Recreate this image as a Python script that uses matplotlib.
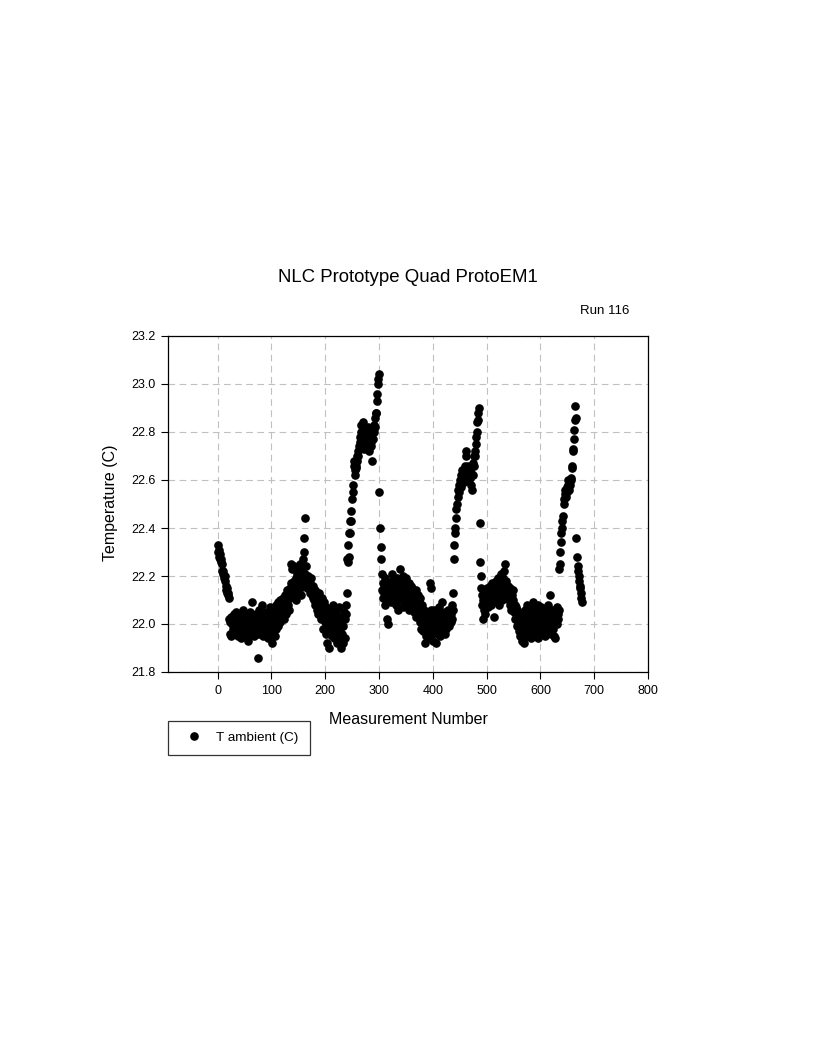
import numpy as np
import matplotlib
matplotlib.use("Agg")
import matplotlib.pyplot as plt

plt.rcParams['font.family'] = ['Liberation Sans', 'DejaVu Sans']

title = "NLC Prototype Quad ProtoEM1"
run_label = "Run 116"
x_label = "Measurement Number"
y_label = "Temperature (C)"
series_name = "T ambient (C)"

x_ticks = [0, 100, 200, 300, 400, 500, 600, 700, 800]
y_ticks = [21.8, 22.0, 22.2, 22.4, 22.6, 22.8, 23.0, 23.2]

# T ambient (C), one value per measurement number (0, 1, 2, ...)
t_ambient = [
    22.33, 22.30, 22.31, 22.28, 22.29, 22.27, 22.26, 22.27, 22.25, 22.22,
    22.21, 22.22, 22.19, 22.20, 22.18, 22.16, 22.14, 22.15, 22.13, 22.12,
    22.13, 22.11, 22.02, 21.96, 22.01, 22.03, 21.95, 22.00, 22.02, 21.98,
    22.04, 22.01, 21.96, 22.03, 21.99, 22.05, 22.00, 21.97, 22.02, 21.95,
    22.01, 22.04, 21.98, 22.00, 21.94, 22.03, 21.99, 22.06, 21.97, 22.01,
    21.95, 22.02, 21.98, 22.04, 21.96, 22.00, 21.93, 22.03, 21.99, 22.01,
    21.97, 22.05, 22.00, 21.96, 22.02, 22.09, 21.98, 22.01, 21.95, 22.03,
    22.00, 21.97, 22.04, 21.99, 22.02, 21.86, 21.96, 22.01, 22.06, 21.98,
    22.03, 21.97, 22.00, 22.08, 21.95, 22.02, 21.99, 22.04, 21.97, 22.01,
    22.05, 21.98, 22.02, 21.94, 22.00, 22.03, 21.96, 22.07, 22.01, 21.99,
    22.04, 21.92, 22.02, 21.97, 22.05, 22.00, 21.95, 22.03, 22.08, 21.98,
    22.06, 22.02, 22.09, 21.99, 22.04, 22.07, 22.01, 22.10, 22.05, 22.03,
    22.08, 22.06, 22.11, 22.02, 22.09, 22.05, 22.12, 22.07, 22.04, 22.10,
    22.14, 22.08, 22.12, 22.06, 22.15, 22.11, 22.17, 22.25, 22.23, 22.13,
    22.16, 22.12, 22.18, 22.24, 22.14, 22.10, 22.19, 22.15, 22.21, 22.13,
    22.17, 22.20, 22.14, 22.22, 22.25, 22.12, 22.19, 22.23, 22.16, 22.27,
    22.30, 22.36, 22.44, 22.21, 22.17, 22.24, 22.19, 22.15, 22.20, 22.16,
    22.18, 22.13, 22.17, 22.14, 22.19, 22.12, 22.15, 22.11, 22.16, 22.13,
    22.10, 22.14, 22.08, 22.12, 22.06, 22.11, 22.09, 22.04, 22.13, 22.07,
    22.10, 22.05, 22.08, 22.02, 22.11, 22.06, 21.98, 22.04, 22.09, 22.01,
    22.03, 21.96, 22.07, 22.00, 21.92, 22.05, 21.98, 21.90, 22.02, 21.96,
    22.06, 22.00, 21.95, 22.03, 21.97, 22.08, 21.99, 21.94, 22.04, 22.01,
    21.96, 22.05, 21.92, 22.00, 22.02, 21.95, 22.07, 21.98, 21.93, 21.90,
    22.01, 21.96, 22.03, 21.92, 21.99, 22.05, 21.94, 22.02, 22.08, 22.04,
    22.13, 22.27, 22.26, 22.33, 22.28, 22.38, 22.38, 22.43, 22.43, 22.47,
    22.52, 22.55, 22.58, 22.66, 22.68, 22.62, 22.64, 22.66, 22.65, 22.70,
    22.68, 22.72, 22.70, 22.74, 22.76, 22.78, 22.80, 22.83, 22.75, 22.79,
    22.84, 22.77, 22.73, 22.81, 22.78, 22.76, 22.80, 22.74, 22.77, 22.82,
    22.79, 22.75, 22.72, 22.78, 22.81, 22.76, 22.74, 22.79, 22.68, 22.77,
    22.80, 22.83, 22.82, 22.86, 22.88, 22.88, 22.93, 22.96, 23.00, 23.02,
    23.04, 22.55, 22.40, 22.32, 22.27, 22.21, 22.14, 22.17, 22.11, 22.15,
    22.13, 22.19, 22.08, 22.16, 22.12, 22.02, 22.00, 22.10, 22.14, 22.17,
    22.11, 22.15, 22.09, 22.13, 22.18, 22.21, 22.12, 22.16, 22.10, 22.14,
    22.17, 22.08, 22.15, 22.12, 22.19, 22.06, 22.14, 22.10, 22.16, 22.13,
    22.23, 22.18, 22.11, 22.15, 22.07, 22.20, 22.13, 22.17, 22.09, 22.15,
    22.12, 22.19, 22.08, 22.14, 22.11, 22.17, 22.06, 22.13, 22.10, 22.16,
    22.12, 22.07, 22.15, 22.09, 22.13, 22.05, 22.11, 22.08, 22.14, 22.03,
    22.10, 22.06, 22.12, 22.04, 22.09, 22.07, 22.01, 22.11, 22.05, 21.98,
    22.08, 22.03, 21.97, 22.06, 22.00, 21.92, 22.04, 21.95, 22.02, 21.98,
    22.05, 22.01, 21.94, 22.03, 21.99, 22.17, 22.15, 22.06, 21.96, 22.01,
    22.04, 21.93, 22.00, 22.06, 21.97, 22.02, 21.92, 22.05, 21.99, 22.03,
    21.96, 22.07, 22.01, 21.95, 22.04, 22.00, 21.97, 22.09, 22.02, 21.98,
    22.03, 22.00, 21.96, 22.05, 22.01, 21.98, 22.04, 22.02, 22.06, 22.00,
    22.03, 21.99, 22.05, 22.01, 22.04, 22.08, 22.02, 22.06, 22.13, 22.27,
    22.33, 22.38, 22.40, 22.44, 22.48, 22.50, 22.53, 22.56, 22.58, 22.55,
    22.58, 22.60, 22.57, 22.62, 22.60, 22.64, 22.61, 22.63, 22.59, 22.66,
    22.62, 22.70, 22.72, 22.65, 22.63, 22.60, 22.66, 22.62, 22.64, 22.61,
    22.65, 22.58, 22.63, 22.56, 22.67, 22.62, 22.70, 22.66, 22.72, 22.70,
    22.75, 22.78, 22.80, 22.84, 22.85, 22.88, 22.90, 22.42, 22.26, 22.20,
    22.15, 22.12, 22.08, 22.02, 22.10, 22.14, 22.06, 22.11, 22.04, 22.13,
    22.09, 22.15, 22.11, 22.07, 22.13, 22.10, 22.16, 22.12, 22.08, 22.14,
    22.11, 22.17, 22.09, 22.13, 22.03, 22.15, 22.12, 22.18, 22.10, 22.14,
    22.16, 22.11, 22.19, 22.13, 22.08, 22.15, 22.21, 22.12, 22.17, 22.10,
    22.14, 22.19, 22.22, 22.13, 22.25, 22.16, 22.11, 22.18, 22.14, 22.12,
    22.16, 22.10, 22.13, 22.08, 22.15, 22.11, 22.06, 22.12, 22.09, 22.14,
    22.10, 22.05, 22.08, 22.02, 22.07, 22.04, 21.99, 22.06, 22.01, 22.03,
    21.97, 22.05, 22.00, 21.95, 22.02, 21.98, 21.93, 22.04, 21.96, 21.92,
    22.01, 21.97, 22.06, 21.99, 22.03, 21.95, 22.08, 22.00, 21.96, 22.05,
    22.02, 21.98, 22.07, 21.94, 22.01, 22.04, 21.97, 22.09, 22.00, 21.95,
    22.06, 22.02, 21.96, 22.03, 21.99, 22.08, 21.94, 22.01, 22.05, 21.97,
    22.03, 22.00, 22.07, 21.96, 22.02, 21.98, 22.05, 22.01, 21.95, 22.04,
    22.00, 22.06, 21.97, 22.02, 22.08, 21.99, 22.03, 22.12, 22.01, 21.96,
    22.04, 22.00, 22.06, 21.98, 22.02, 21.95, 22.05, 22.01, 21.94, 22.03,
    22.00, 22.07, 22.04, 22.02, 22.06, 22.23, 22.25, 22.30, 22.34, 22.38,
    22.40, 22.43, 22.45, 22.50, 22.52, 22.56, 22.54, 22.53, 22.55, 22.57,
    22.55, 22.58, 22.60, 22.59, 22.56, 22.58, 22.61, 22.60, 22.66, 22.65,
    22.72, 22.73, 22.77, 22.81, 22.91, 22.85, 22.86, 22.36, 22.28, 22.24,
    22.22, 22.20, 22.18, 22.15, 22.16, 22.13, 22.11, 22.09,
]
measurement = np.arange(len(t_ambient))

W, H = 816, 1056
fig = plt.figure(figsize=(W / 100, H / 100), dpi=100)
ax = fig.add_axes([168 / W, 1 - 672 / H, (648 - 168) / W, (672 - 336) / H])

ax.plot(measurement, t_ambient, linestyle='none', marker='o', markersize=5.2,
        color='black', markeredgecolor='black', label=series_name)

ax.set_xlim(-92, 800)
ax.set_ylim(21.8, 23.2)
ax.set_xticks(x_ticks)
ax.set_yticks(y_ticks)
ax.set_yticklabels([f"{v:.1f}" for v in y_ticks])
ax.tick_params(axis='both', direction='out', length=5, width=0.8,
               labelsize=9, colors='black', pad=4)
ax.grid(True, color='#c0c0c0', linestyle=(0, (6, 4)), linewidth=0.8)
ax.set_axisbelow(True)
for s in ax.spines.values():
    s.set_linewidth(0.9)
    s.set_color('black')

fig.text(408 / W, 1 - 277 / H, title, ha='center', va='center', fontsize=13.4)
fig.text(605 / W, 1 - 311 / H, run_label, ha='center', va='center', fontsize=9.5)
fig.text(408 / W, 1 - 719 / H, x_label, ha='center', va='center', fontsize=11.5)
fig.text(111 / W, 1 - 503 / H, y_label, ha='center', va='center', fontsize=11.5,
         rotation=90)

leg = fig.legend(loc='upper left', bbox_to_anchor=(168 / W, 1 - 721 / H),
                 bbox_transform=fig.transFigure, fontsize=9.7, frameon=True,
                 fancybox=False, shadow=False, borderaxespad=0, borderpad=0.8,
                 handletextpad=0.6, handlelength=2.2, markerscale=1.0)
leg.get_frame().set_edgecolor('black')
leg.get_frame().set_linewidth(0.9)

fig.savefig("out.png", dpi=100, facecolor='white')
